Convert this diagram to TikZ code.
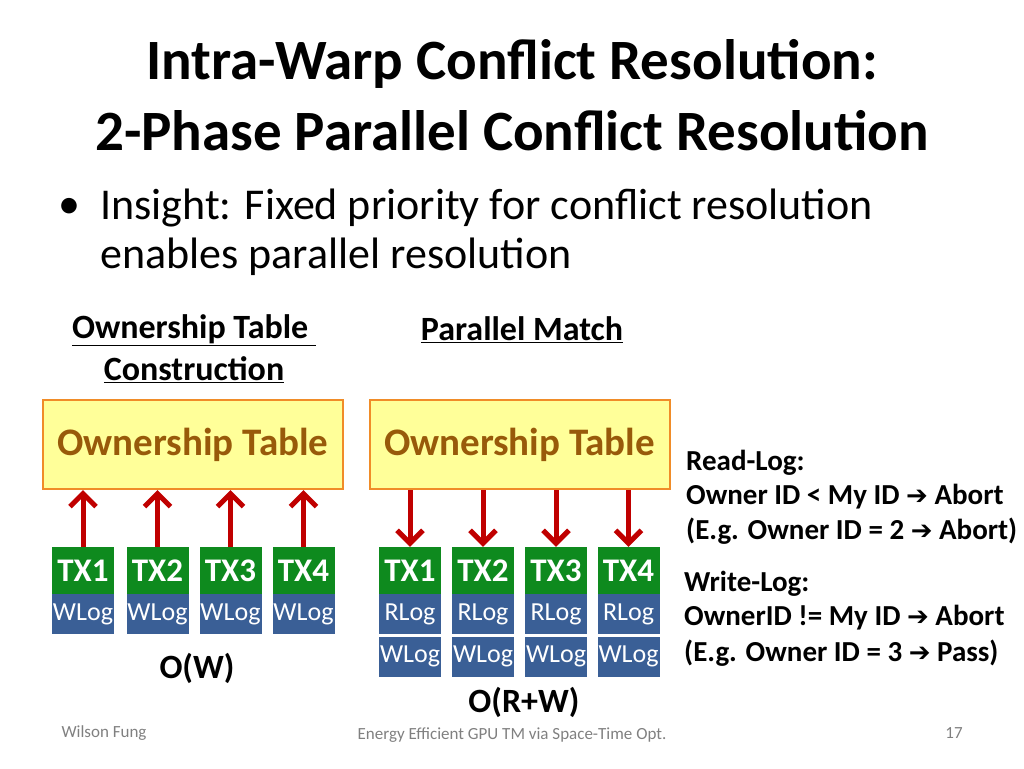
\documentclass[tikz,border=0pt]{standalone}
\usepackage{fontspec}
\setmainfont{Carlito}
\newfontfamily\dv{DejaVu Sans}
\newcommand\myul[1]{\underline{#1}}
\definecolor{otfill}{HTML}{FFFF99}
\definecolor{otdraw}{HTML}{F08C28}
\definecolor{ottext}{HTML}{985A0A}
\definecolor{txg}{HTML}{0E8A1E}
\definecolor{logb}{HTML}{3A5F96}
\definecolor{arr}{HTML}{C00000}
\usetikzlibrary{arrows.meta}
\begin{document}
\begin{tikzpicture}[x=1pt,y=-1pt,
  ot/.style={draw=otdraw,line width=2pt,fill=otfill,minimum width=300pt,minimum height=89pt,text=ottext,font=\fontsize{39}{42}\selectfont\bfseries},
  tx/.style={fill=txg,text=white,minimum width=62pt,minimum height=47pt,inner sep=0,font=\fontsize{33}{34}\selectfont\bfseries},
  lg/.style={fill=logb,text=white,minimum width=62pt,minimum height=40pt,inner sep=0,font=\fontsize{26}{28}\selectfont},
  ar/.style={draw=arr,line width=5pt,-{Straight Barb[length=13pt,width=26pt,line width=5pt]}},
  txt/.style={anchor=west,inner sep=0,font=\fontsize{29}{32}\selectfont\bfseries},
  hd/.style={font=\fontsize{34}{38}\selectfont\bfseries},
  foot/.style={text=gray,font=\fontsize{17}{19}\selectfont}]
\useasboundingbox (0,0) rectangle (1024,768);
\node[font=\fontsize{57}{60}\selectfont\bfseries] (t1) at (512,64) {Intra-Warp Conflict Resolution:};
\node[font=\fontsize{57}{60}\selectfont\bfseries] (t2) at (512,131) {2-Phase Parallel Conflict Resolution};
\node[anchor=west,inner sep=0,font=\fontsize{44}{48}\selectfont] (b0) at (58,208) {•};
\node[anchor=west,inner sep=0,font=\fontsize{44}{48}\selectfont] (b1) at (100,208) {Insight: Fixed priority for conflict resolution};
\node[anchor=west,inner sep=0,font=\fontsize{44}{48}\selectfont] (b2) at (100,257) {enables parallel resolution};
\node[hd] (h1) at (194,330) {\myul{Ownership Table\ }};
\node[hd] (h1b) at (194,370) {\myul{Construction}};
\node[hd] (h2) at (522,330) {\myul{Parallel Match}};
\node[ot] (ot1) at (193,444.5) {Ownership Table};
\node[ot] (ot2) at (519.5,444.5) {Ownership Table};
\foreach \i/\x in {1/83,2/157.5,3/230.5,4/303.5}{
  \node[tx] (L\i) at (\x,570.5) {TX\i};
  \node[lg,anchor=north] (LW\i) at (L\i.south) {WLog};
  \draw[ar] (L\i.north) -- (L\i.north |- ot1.south);
}
\foreach \i/\x in {1/410,2/483,3/556,4/628.5}{
  \node[tx] (R\i) at (\x,570.5) {TX\i};
  \node[lg,anchor=north] (RR\i) at (R\i.south) {RLog};
  \node[lg,anchor=north,yshift=-2pt] (RW\i) at (RR\i.south) {WLog};
  \draw[ar] (R\i.north |- ot2.south) -- (R\i.north);
}
\node[hd] (ow) at (197,668) {O(W)};
\node[hd] (orw) at (524,702) {O(R+W)};
\node[txt] (r1) at (686,463) {Read-Log:};
\node[txt] (r2) at (686,497) {Owner ID < My ID {\dv\fontsize{26}{28}\selectfont ➔} Abort};
\node[txt] (r3) at (686,531) {(E.g. Owner ID = 2 {\dv\fontsize{26}{28}\selectfont ➔} Abort)};
\node[txt] (w1) at (684,584) {Write-Log:};
\node[txt] (w2) at (684,618) {OwnerID != My ID {\dv\fontsize{26}{28}\selectfont ➔} Abort};
\node[txt] (w3) at (684,653) {(E.g. Owner ID = 3 {\dv\fontsize{26}{28}\selectfont ➔} Pass)};
\node[foot] (f1) at (104,733) {Wilson Fung};
\node[foot] (f2) at (512,735) {Energy Efficient GPU TM via Space-Time Opt.};
\node[foot] (f3) at (954,733) {17};
\end{tikzpicture}
\end{document}
